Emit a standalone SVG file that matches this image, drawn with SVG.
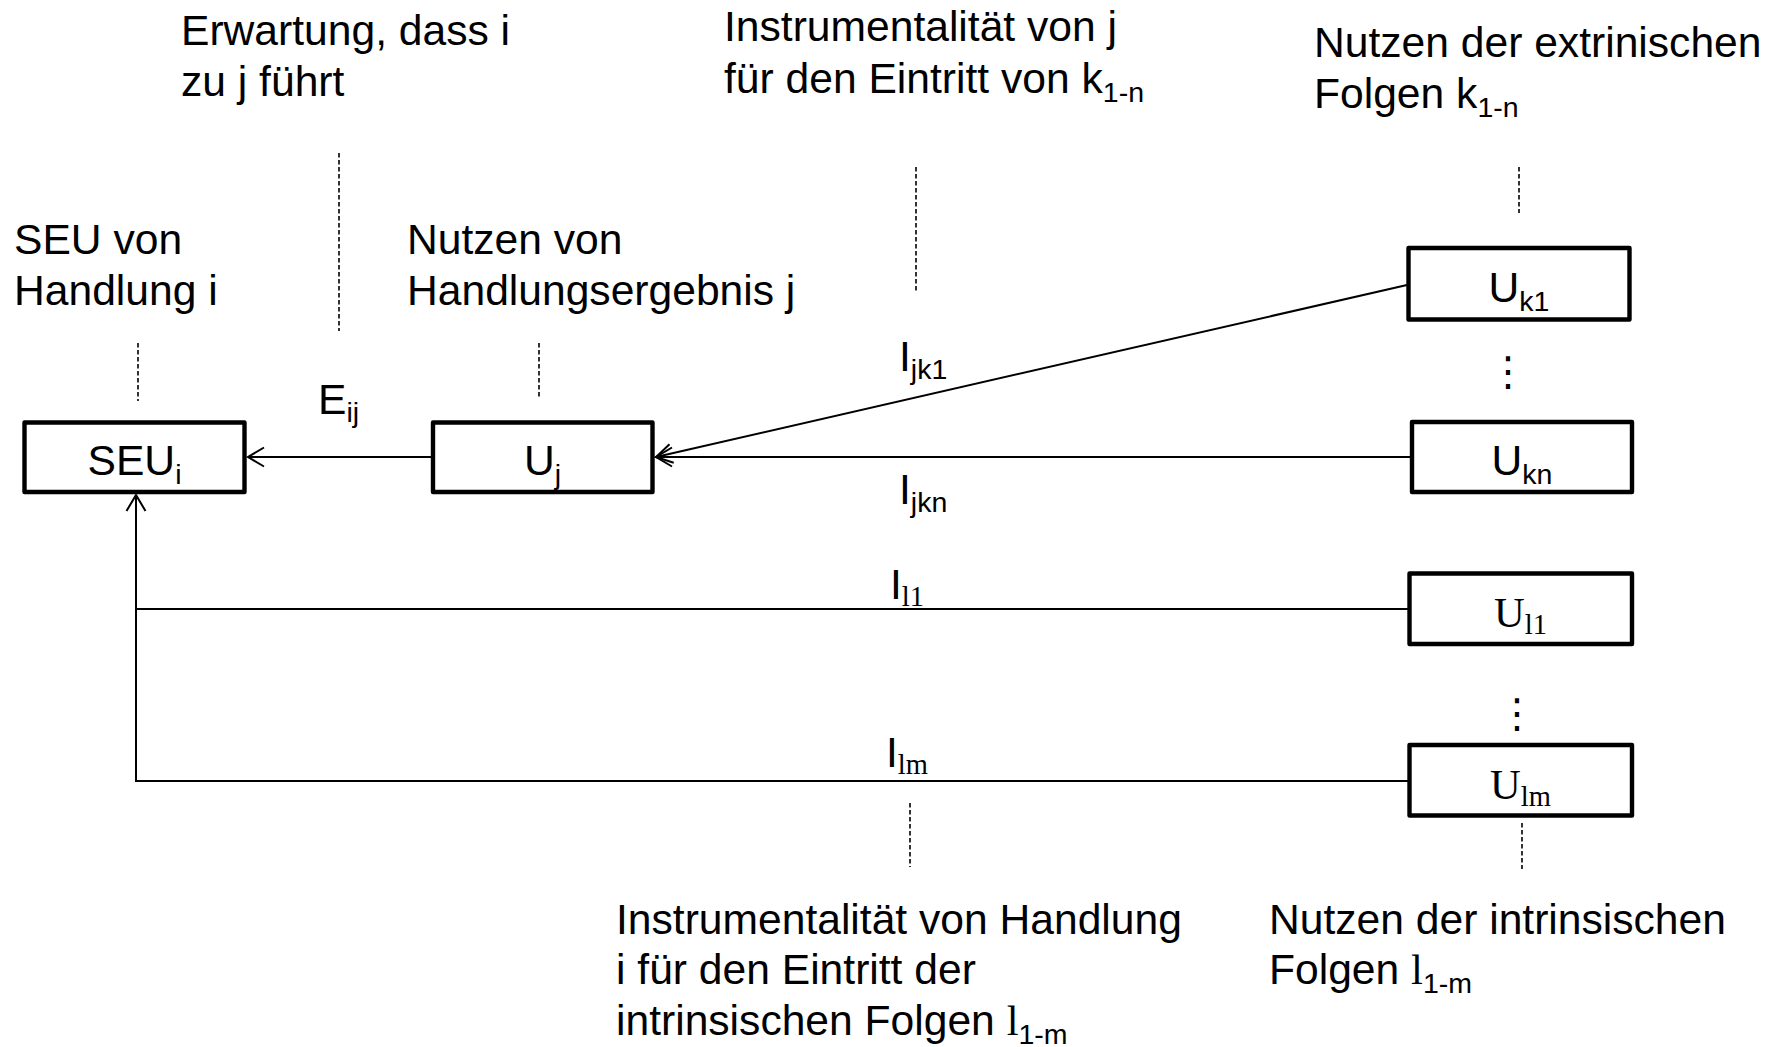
<svg xmlns="http://www.w3.org/2000/svg" width="1773" height="1047" viewBox="0 0 1773 1047">
  <style>
    text { font-family: "Liberation Sans", Arial, sans-serif; font-size: 42.6px; fill: #000; }
    .sub { font-size: 28.5px; }
    .serif { font-family: "Liberation Serif", "Times New Roman", serif; }
    .box { fill: #fff; stroke: #000; stroke-width: 4.4; stroke-linejoin: round; }
    .lbl { text-anchor: middle; }
    .conn { fill: none; stroke: #000; stroke-width: 2; }
    .guide { fill: none; stroke: #000; stroke-width: 1.6; stroke-dasharray: 4.5 2.5; }
    .dots { font-family: "DejaVu Sans", sans-serif; font-size: 40px; text-anchor: middle; }
  </style>
  <defs>
    <marker id="open-arrow" markerUnits="userSpaceOnUse" markerWidth="24" markerHeight="24" refX="18" refY="12" orient="auto">
      <path d="M2,2.5 L18,12 L2,21.5" fill="none" stroke="#000" stroke-width="2"/>
    </marker>
  </defs>

  <rect width="1773" height="1047" fill="#fff"/>

  <!-- dashed guide lines from the captions to the elements -->
  <g id="guides">
    <line class="guide" x1="339" y1="153" x2="339" y2="331"/>
    <line class="guide" x1="138" y1="343" x2="138" y2="401"/>
    <line class="guide" x1="539" y1="343" x2="539" y2="399"/>
    <line class="guide" x1="916" y1="167" x2="916" y2="292"/>
    <line class="guide" x1="1519" y1="167" x2="1519" y2="213"/>
    <line class="guide" x1="910" y1="803" x2="910" y2="867"/>
    <line class="guide" x1="1522" y1="823" x2="1522" y2="869"/>
  </g>

  <!-- connectors -->
  <g id="connectors">
    <line class="conn" x1="431" y1="457" x2="248" y2="457" marker-end="url(#open-arrow)"/>
    <line class="conn" x1="1407" y1="285" x2="656" y2="457" marker-end="url(#open-arrow)"/>
    <line class="conn" x1="1410" y1="457" x2="656" y2="457" marker-end="url(#open-arrow)"/>
    <line class="conn" x1="1408" y1="609" x2="136" y2="609"/>
    <polyline class="conn" points="1408,781 136,781 136,495" marker-end="url(#open-arrow)"/>
  </g>

  <!-- nodes -->
  <g id="node-seu">
    <rect class="box" x="24.5" y="422.5" width="220" height="69.5"/>
    <text class="lbl" x="134.5" y="475">SEU<tspan class="sub" dy="9">i</tspan></text>
  </g>
  <g id="node-uj">
    <rect class="box" x="433" y="422.5" width="219.5" height="69.5"/>
    <text class="lbl" x="542.5" y="475">U<tspan class="sub" dy="9">j</tspan></text>
  </g>
  <g id="node-uk1">
    <rect class="box" x="1408.5" y="248" width="221" height="71.5"/>
    <text class="lbl" x="1519" y="302">U<tspan class="sub" dy="9">k1</tspan></text>
  </g>
  <g id="node-ukn">
    <rect class="box" x="1412" y="422" width="220" height="70"/>
    <text class="lbl" x="1522" y="475">U<tspan class="sub" dy="9">kn</tspan></text>
  </g>
  <g id="node-ul1">
    <rect class="box" x="1409.5" y="573.5" width="222.5" height="70.5"/>
    <text class="lbl serif" x="1520.5" y="627">U<tspan class="sub" dy="7">l1</tspan></text>
  </g>
  <g id="node-ulm">
    <rect class="box" x="1409.5" y="745" width="222.5" height="70.5"/>
    <text class="lbl serif" x="1520.5" y="799">U<tspan class="sub" dy="7">lm</tspan></text>
  </g>

  <!-- vertical ellipses between the consequence boxes -->
  <g id="ellipses">
    <text class="dots" x="1508" y="385">⋮</text>
    <text class="dots" x="1517" y="727">⋮</text>
  </g>

  <!-- connector labels -->
  <g id="edge-labels">
    <text x="318" y="414">E<tspan class="sub" dy="8">ij</tspan></text>
    <text x="899" y="371">I<tspan class="sub" dy="8">jk1</tspan></text>
    <text x="899" y="504">I<tspan class="sub" dy="8">jkn</tspan></text>
    <text x="890" y="599">I<tspan class="sub serif" dy="7">l1</tspan></text>
    <text x="886" y="767">I<tspan class="sub serif" dy="7">lm</tspan></text>
  </g>

  <!-- captions -->
  <g id="captions">
    <text x="181" y="45">Erwartung, dass i</text>
    <text x="181" y="96">zu j führt</text>

    <text x="724" y="41">Instrumentalität von j</text>
    <text x="724" y="93">für den Eintritt von k<tspan class="sub" dy="9">1-n</tspan></text>

    <text x="1314" y="57">Nutzen der extrinischen</text>
    <text x="1314" y="108">Folgen k<tspan class="sub" dy="9">1-n</tspan></text>

    <text x="14" y="254">SEU von</text>
    <text x="14" y="305">Handlung i</text>

    <text x="407" y="254">Nutzen von</text>
    <text x="407" y="305">Handlungsergebnis j</text>

    <text x="616" y="934">Instrumentalität von Handlung</text>
    <text x="616" y="984">i für den Eintritt der</text>
    <text x="616" y="1035">intrinsischen Folgen <tspan class="serif">l</tspan><tspan class="sub" dy="9">1-m</tspan></text>

    <text x="1269" y="934">Nutzen der intrinsischen</text>
    <text x="1269" y="984">Folgen <tspan class="serif">l</tspan><tspan class="sub" dy="9">1-m</tspan></text>
  </g>
</svg>
